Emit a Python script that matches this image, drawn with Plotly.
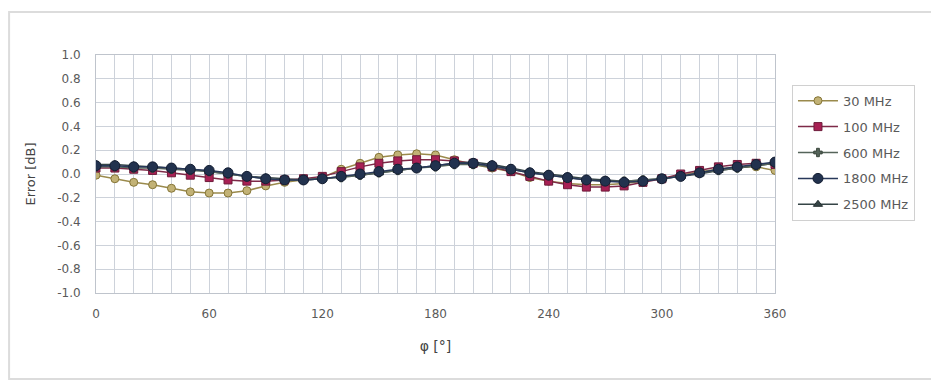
import plotly.graph_objects as go

phi = list(range(0, 361, 10))

err_30 = [-0.01, -0.04, -0.07, -0.09, -0.12, -0.15, -0.16, -0.16, -0.14, -0.10, -0.07, -0.05, -0.03, 0.04, 0.09, 0.14, 0.16, 0.17, 0.16,
          0.12, 0.08, 0.05, 0.02, -0.03, -0.06, -0.08, -0.09, -0.09, -0.08, -0.06, -0.04, -0.01, 0.02, 0.04, 0.06, 0.06, 0.03]
err_100 = [0.05, 0.05, 0.04, 0.03, 0.01, -0.01, -0.03, -0.05, -0.06, -0.06, -0.05, -0.04, -0.02, 0.02, 0.06, 0.09, 0.11, 0.12, 0.12,
           0.11, 0.09, 0.06, 0.02, -0.02, -0.06, -0.09, -0.11, -0.11, -0.10, -0.07, -0.04, 0.00, 0.03, 0.06, 0.08, 0.09, 0.08]
err_600 = [0.06, 0.06, 0.05, 0.05, 0.04, 0.03, 0.02, 0.00, -0.02, -0.04, -0.05, -0.05, -0.04, -0.03, -0.01, 0.01, 0.03, 0.05, 0.06,
           0.08, 0.08, 0.06, 0.04, 0.01, -0.01, -0.03, -0.05, -0.06, -0.06, -0.05, -0.04, -0.02, 0.01, 0.03, 0.05, 0.07, 0.09]
err_1800 = [0.07, 0.07, 0.06, 0.06, 0.05, 0.04, 0.03, 0.01, -0.02, -0.04, -0.05, -0.05, -0.04, -0.02, 0.00, 0.02, 0.04, 0.05, 0.07,
            0.09, 0.09, 0.07, 0.04, 0.01, -0.01, -0.03, -0.05, -0.06, -0.07, -0.06, -0.04, -0.02, 0.01, 0.04, 0.06, 0.08, 0.10]
err_2500 = [0.08, 0.08, 0.07, 0.06, 0.05, 0.04, 0.02, 0.00, -0.02, -0.03, -0.04, -0.05, -0.04, -0.02, -0.01, 0.01, 0.03, 0.05, 0.07,
            0.09, 0.10, 0.08, 0.05, 0.02, 0.00, -0.02, -0.04, -0.05, -0.06, -0.05, -0.04, -0.02, 0.00, 0.03, 0.05, 0.07, 0.09]

y_ticks = [-1.0, -0.8, -0.6, -0.4, -0.2, 0.0, 0.2, 0.4, 0.6, 0.8, 1.0]
x_ticks = [0, 60, 120, 180, 240, 300, 360]

series = [
    ("30 MHz", err_30, "circle", 8, "#c2b276", "#857536", "#9a8a4c", 1),
    ("100 MHz", err_100, "square", 8, "#a82054", "#6e1c3a", "#7e2a48", 2),
    ("2500 MHz", err_2500, "triangle-up", 8, "#354446", "#252f31", "#354446", 5),
    ("600 MHz", err_600, "cross", 7, "#55645a", "#3c483e", "#55645a", 3),
    ("1800 MHz", err_1800, "circle", 10, "#22324e", "#141e32", "#28385a", 4),
]

fig = go.Figure()
for name, vals, sym, size, fill, edge, line, rank in series:
    fig.add_trace(go.Scatter(
        x=phi, y=vals, name=name, mode="lines+markers",
        line=dict(color=line, width=1.5),
        marker=dict(symbol=sym, size=size, color=fill, line=dict(color=edge, width=1)),
        legendrank=rank, legendgroup=name,
    ))

grid = "#cdd2da"
# page body has an 8px margin: figure spans 8..939 x 8..383
fig.update_layout(
    width=931, height=375,
    margin=dict(l=88, r=164, t=47, b=90),
    paper_bgcolor="white", plot_bgcolor="white",
    font=dict(family="DejaVu Sans, Liberation Sans, sans-serif", size=12, color="#5a5a5a"),
    showlegend=True,
    legend=dict(x=1.025, y=0.875, xanchor="left", yanchor="top",
                bordercolor="#d0d0d0", borderwidth=1, bgcolor="white",
                font=dict(size=13, color="#5a5a5a"), tracegroupgap=6,
                itemwidth=40),
    xaxis=dict(range=[0, 360], tickvals=x_ticks, ticktext=[str(v) for v in x_ticks],
               showgrid=True, gridcolor=grid, gridwidth=1,
               minor=dict(dtick=10, showgrid=True, gridcolor=grid),
               showline=True, linecolor="#bfc4cc", mirror=True, zeroline=False,
               ticks="", ticklabelstandoff=10,
               title=dict(text="φ [°]", font=dict(size=14, color="#444444"), standoff=20)),
    yaxis=dict(range=[-1.0, 1.0], tickvals=y_ticks, ticktext=[f"{v:.1f}" for v in y_ticks],
               showgrid=True, gridcolor=grid, gridwidth=1,
               showline=True, linecolor="#bfc4cc", mirror=True, zeroline=False,
               ticks="", ticklabelstandoff=12,
               title=dict(text="Error [dB]", font=dict(size=13, color="#444444"), standoff=18)),
)

fig.add_shape(type="rect", xref="paper", yref="paper",
              x0=-0.128, x1=1.237, y0=-0.361, y1=1.181,
              line=dict(color="#dcdcdc", width=2), layer="below")

fig.write_html("out.html")
